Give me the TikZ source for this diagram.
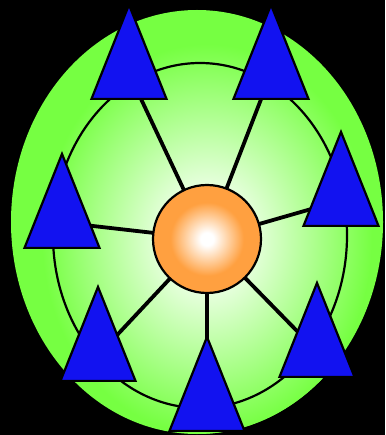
\documentclass[tikz,border=0pt]{standalone}
\usetikzlibrary{shapes.geometric}
\definecolor{leaf}{RGB}{118,255,66}
\definecolor{peel}{RGB}{255,160,64}
\definecolor{tri}{RGB}{18,18,240}
\pgfdeclareradialshading{halo}{\pgfpoint{0bp}{0bp}}{color(0bp)=(white); color(3bp)=(white); color(25bp)=(leaf); color(50bp)=(leaf)}
\pgfdeclareradialshading{ember}{\pgfpoint{0bp}{0bp}}{color(0bp)=(white); color(3bp)=(white); color(17bp)=(peel); color(50bp)=(peel)}
\pgfdeclarelayer{back}
\pgfdeclarelayer{links}
\pgfsetlayers{back,links,main}
\tikzset{
    peer/.style={
        isosceles triangle, isosceles triangle stretches,
        shape border rotate=90, minimum width=75pt, minimum height=94pt,
        inner sep=0pt, fill=tri, draw=black, line width=2.2pt, anchor=apex
    },
    hub/.style={
        circle, minimum size=108pt, inner sep=0pt, draw=black, line width=2.2pt,
        shading=ember
    },
    link/.style={line width=3.8pt}
}

\begin{document}
\begin{tikzpicture}[x=1pt,y=-1pt]

% --- frame ---
    \useasboundingbox (0,0) rectangle (385,435);

\begin{pgfonlayer}{back}
% black ground
    \fill[black] (0,0) rectangle (385,435);

% green disc with its glow
    \fill[leaf] (197,222) ellipse [x radius=186, y radius=212];
    \begin{scope}
        \clip (197,222) ellipse [x radius=186, y radius=212];
        \shade[shading=halo] (207,239) ellipse [x radius=165, y radius=195];
    \end{scope}

% inner ring
    \draw[line width=2.2pt] (200,235.5) ellipse [x radius=147, y radius=172.5];
\end{pgfonlayer}

% hub
    \node[hub] (core) at (207,239) {};

% peers (placed by their apex)
    \node[peer] (p1) at (129,2)   {};
    \node[peer] (p2) at (271,2)   {};
    \node[peer] (p3) at (341,129) {};
    \node[peer] (p4) at (62,151)  {};
    \node[peer] (p5) at (98,284)  {};
    \node[peer] (p6) at (317,280) {};
    \node[peer] (p7) at (207,334) {};

% spokes
\begin{pgfonlayer}{links}
    \foreach \p in {p1,p2,p3,p4,p5,p6,p7}
        \draw[link] (core.center) -- (\p.center);
\end{pgfonlayer}

\end{tikzpicture}
\end{document}
